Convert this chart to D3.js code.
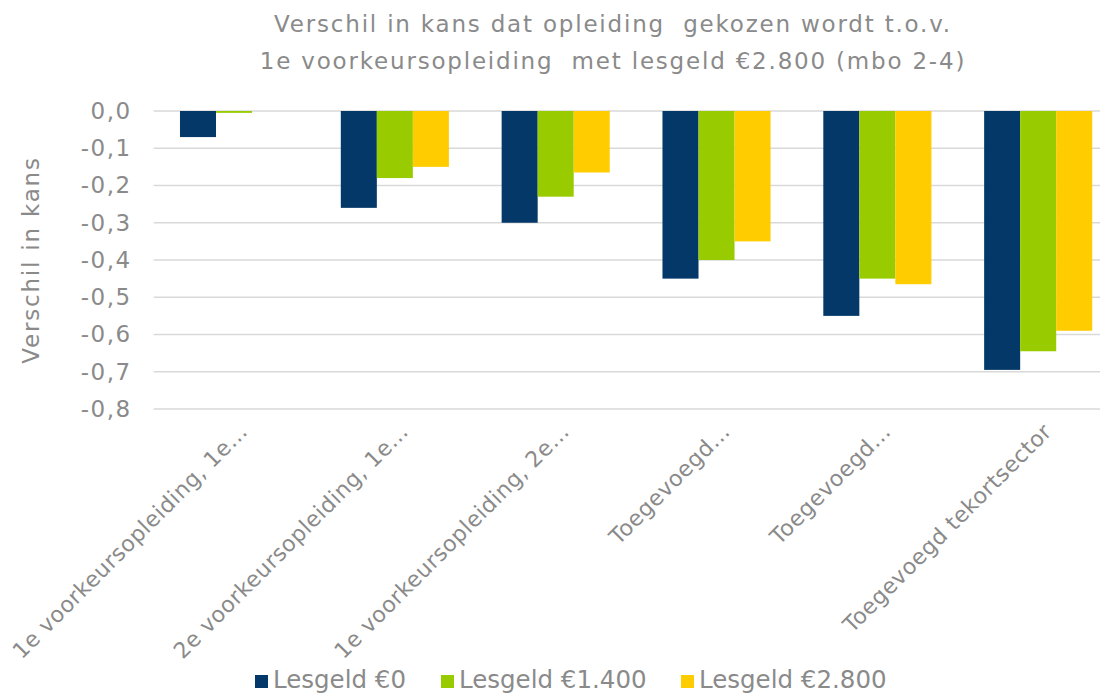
<!DOCTYPE html>
<html>
<head>
<meta charset="utf-8">
<script src="https://cdn.jsdelivr.net/npm/d3@7"></script>
<style>
  body { margin: 0; background: #fff; }
  text { font-family: "DejaVu Sans", Verdana, sans-serif; fill: #8a8a8a; }
</style>
</head>
<body>
<div id="chart"></div>
<script>
// data
var categories = [
    "1e voorkeursopleiding, 1e…",
    "2e voorkeursopleiding, 1e…",
    "1e voorkeursopleiding, 2e…",
    "Toegevoegd…",
    "Toegevoegd…",
    "Toegevoegd tekortsector"
];
var seriesNames = ["Lesgeld €0", "Lesgeld €1.400", "Lesgeld €2.800"];
var lesgeld0    = [-0.07, -0.26, -0.30, -0.45, -0.55, -0.695];
var lesgeld1400 = [-0.005, -0.18, -0.23, -0.40, -0.45, -0.645];
var lesgeld2800 = [0.0, -0.15, -0.165, -0.35, -0.465, -0.59];
var yTicks = [0, -0.1, -0.2, -0.3, -0.4, -0.5, -0.6, -0.7, -0.8];
var colors = ["#033868", "#99cc00", "#ffcc00"];

var allSeries = [lesgeld0, lesgeld1400, lesgeld2800];

var svgWidth = 1113, svgHeight = 693;
var margin = {top: 111, right: 13, bottom: 284, left: 153.6};
var width = svgWidth - margin.left - margin.right;   // gridline length
var height = svgHeight - margin.top - margin.bottom;
var bandWidth = 965;                                   // category band range

var svg = d3.select("#chart").append("svg")
    .attr("width", svgWidth)
    .attr("height", svgHeight);

// title (two lines, double spaces kept)
var title = svg.append("text")
    .attr("text-anchor", "middle")
    .style("font-size", "23px")
    .style("letter-spacing", "1.8px")
    .style("white-space", "pre");
title.append("tspan").attr("x", 613).attr("y", 32)
    .text("Verschil in kans dat opleiding  gekozen wordt t.o.v.");
title.append("tspan").attr("x", 613).attr("y", 69)
    .text("1e voorkeursopleiding  met lesgeld €2.800 (mbo 2-4)");

var chartGroup = svg.append("g")
    .attr("transform", `translate(${margin.left}, ${margin.top})`);

var x0 = d3.scaleBand()
    .domain(d3.range(categories.length))
    .range([0, bandWidth])
    .paddingInner(0.328)
    .paddingOuter(0.164);

var x1 = d3.scaleBand()
    .domain(d3.range(seriesNames.length))
    .range([0, x0.bandwidth()]);

var y = d3.scaleLinear()
    .domain([0, -0.8])
    .range([0, height]);

// gridlines
chartGroup.append("g")
    .selectAll("line")
    .data(yTicks)
    .enter()
    .append("line")
    .attr("x1", 0)
    .attr("x2", width)
    .attr("y1", d => y(d))
    .attr("y2", d => y(d))
    .attr("stroke", "#d9d9d9")
    .attr("stroke-width", 1.3);

// y axis labels
var leftAxis = d3.axisLeft(y)
    .tickValues(yTicks)
    .tickSize(0)
    .tickPadding(22)
    .tickFormat(d => d3.format(".1f")(d).replace("−", "-").replace(".", ","));
var yAxis = chartGroup.append("g").call(leftAxis);
yAxis.select(".domain").remove();
yAxis.selectAll("text")
    .style("font-size", "23px")
    .style("letter-spacing", "1.5px")
    .style("font-family", "DejaVu Sans, Verdana, sans-serif")
    .attr("fill", "#8a8a8a");

// y axis title
svg.append("text")
    .attr("transform", "translate(39, 260) rotate(-90)")
    .attr("text-anchor", "middle")
    .style("font-size", "23px")
    .style("letter-spacing", "1.8px")
    .text("Verschil in kans");

// bars
var groups = chartGroup.selectAll(".grp")
    .data(categories)
    .enter()
    .append("g")
    .attr("class", "grp")
    .attr("transform", (d, i) => `translate(${x0(i)}, 0)`);

groups.selectAll("rect")
    .data((d, i) => allSeries.map((s, k) => ({k: k, v: s[i]})))
    .enter()
    .append("rect")
    .attr("x", d => x1(d.k))
    .attr("width", x1.bandwidth())
    .attr("y", d => y(0))
    .attr("height", d => y(d.v) - y(0))
    .attr("fill", d => colors[d.k]);

// x labels
chartGroup.append("g")
    .selectAll("text")
    .data(categories)
    .enter()
    .append("text")
    .attr("transform", (d, i) => `translate(${x0(i) + x0.bandwidth() / 2 + 4}, ${height + 13}) rotate(-45)`)
    .attr("text-anchor", "end")
    .attr("dy", "0.7em")
    .style("font-size", "22px")
    .style("letter-spacing", "0.5px")
    .text(d => d);

// legend
var legendX = [255, 441, 681];
var legend = svg.append("g")
    .selectAll("g")
    .data(seriesNames)
    .enter()
    .append("g")
    .attr("transform", (d, i) => `translate(${legendX[i]}, 675)`);
legend.append("rect")
    .attr("width", 13)
    .attr("height", 13)
    .attr("fill", (d, i) => colors[i]);
legend.append("text")
    .attr("x", 18)
    .attr("y", 13)
    .style("font-size", "24.5px")
    .text(d => d);
</script>
</body>
</html>
